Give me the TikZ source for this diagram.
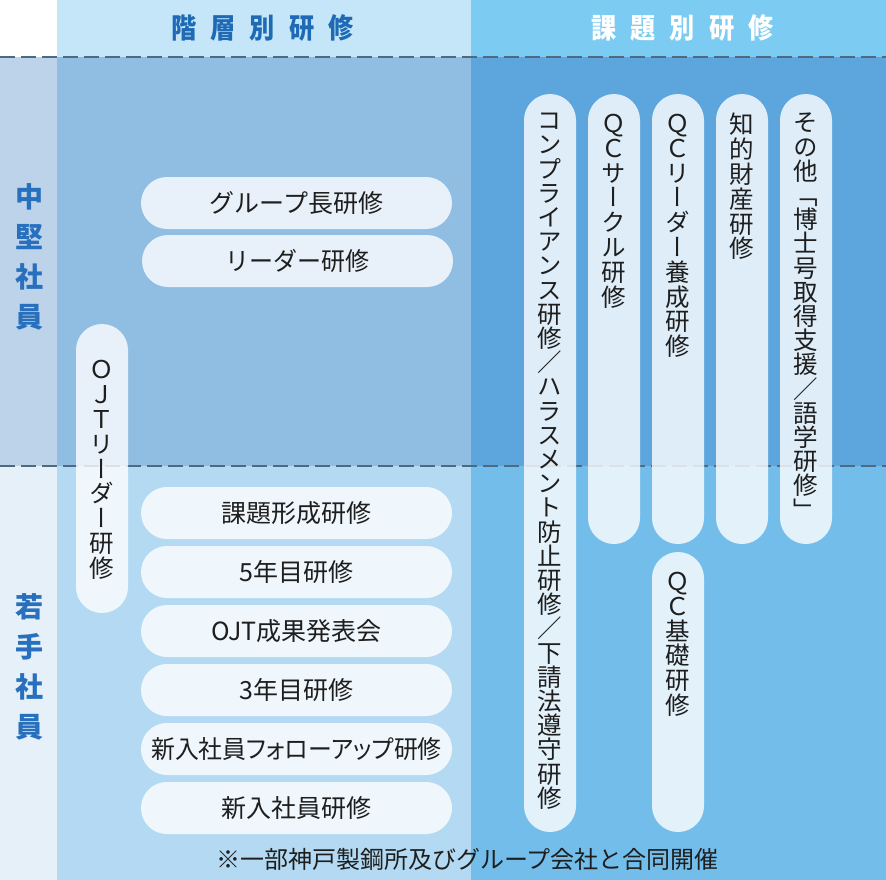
\documentclass[tikz,border=0pt]{standalone}
\usepackage{fontspec}
\setmainfont{Noto Sans CJK JP}
\newfontfamily\vfont[RawFeature=+vert]{Noto Sans CJK JP}
\definecolor{hdrL}{HTML}{C5E5F8}
\definecolor{hdrR}{HTML}{7CCBF2}
\definecolor{lblU}{HTML}{BDD3E9}
\definecolor{lblL}{HTML}{E6F0F9}
\definecolor{colTwoU}{HTML}{90BDE2}
\definecolor{colTwoL}{HTML}{B3DAF2}
\definecolor{colThreeU}{HTML}{5CA6DD}
\definecolor{colThreeL}{HTML}{72BDEA}
\definecolor{dashc}{HTML}{4F6A7E}
\definecolor{hdrblue}{HTML}{1E6AB4}
\definecolor{lblblue}{HTML}{2870BE}
\definecolor{txt}{HTML}{1E1E1E}
\tikzset{
  pill/.style={rectangle, rounded corners=26pt, fill=white, fill opacity=0.8,
    text opacity=1, inner sep=0pt, draw=none, text=txt,
    font=\fontsize{25}{30}\selectfont},
  hpill/.style={pill, minimum width=311pt, minimum height=52pt},
  vpill/.style={pill, minimum width=52pt},
  vtext/.style={inner sep=0pt, align=center, text=txt,
    font=\vfont\fontsize{24.5}{24.2}\selectfont},
  vtextwide/.style={vtext, font=\vfont\fontsize{24.5}{24.8}\selectfont},
  sepline/.style={dashc, line width=2.2pt, dash pattern=on 15pt off 6pt},
  hdrtext/.style={font=\fontsize{28}{28}\selectfont\bfseries},
  sidetext/.style={font=\fontsize{28}{40}\selectfont\bfseries, text=lblblue, align=center, inner sep=0pt}
}
\newcommand{\hsp}{\hspace{15.5pt}}
\begin{document}
\begin{tikzpicture}[x=1pt,y=-1pt]
\useasboundingbox (0,0) rectangle (886,880);
% backgrounds
\fill[hdrL] (57,0) rectangle (471,57);
\fill[hdrR] (471,0) rectangle (886,57);
\fill[lblU] (0,57) rectangle (57,466);
\fill[lblL] (0,466) rectangle (57,880);
\fill[colTwoU] (57,57) rectangle (471,466);
\fill[colTwoL] (57,466) rectangle (471,880);
\fill[colThreeU] (471,57) rectangle (886,466);
\fill[colThreeL] (471,466) rectangle (886,880);
% dashed separators
\coordinate (d1a) at (0,57); \coordinate (d1b) at (886,57);
\coordinate (d2a) at (0,466); \coordinate (d2b) at (886,466);
\draw[sepline] (d1a) -- (d1b);
\draw[sepline] (d2a) -- (d2b);
% headers
\node[hdrtext, text=hdrblue] (hL) at (262.5,28) {\scalebox{0.9}[1]{階\hsp 層\hsp 別\hsp 研\hsp 修}};
\node[hdrtext, text=white] (hR) at (682.5,28) {\scalebox{0.9}[1]{課\hsp 題\hsp 別\hsp 研\hsp 修}};
% side labels
\node[sidetext] (sU) at (30,257) {中\\堅\\社\\員};
\node[sidetext] (sL) at (30,667) {若\\手\\社\\員};
% horizontal pills
\node[hpill] (p1) at (296.5,203) {グループ長研修};
\node[hpill] (p2) at (297.5,261) {\scalebox{0.96}[1]{リーダー研修}};
\node[hpill] (p3) at (296.5,513) {課題形成研修};
\node[hpill] (p4) at (296.5,572) {5年目研修};
\node[hpill] (p5) at (296.5,631) {OJT成果発表会};
\node[hpill] (p6) at (296.5,690) {3年目研修};
\node[hpill] (p7) at (296.5,749) {\scalebox{0.955}[1]{\addfontfeature{RawFeature=+palt}新入社員フォローアップ研修}};
\node[hpill] (p8) at (296.5,808) {新入社員研修};
% vertical pills
\node[vpill, minimum height=289pt] (ojt) at (102,468.5) {};
\node[vpill, minimum height=738pt] (c1) at (550,463) {};
\node[vpill, minimum height=450pt] (c2) at (614,319) {};
\node[vpill, minimum height=450pt] (c3) at (678,319) {};
\node[vpill, minimum height=450pt] (c4) at (742,319) {};
\node[vpill, minimum height=450pt] (c5) at (806,319) {};
\node[vpill, minimum height=280pt] (c6) at (678,692) {};
% vertical texts
\node[vtextwide] (tojt) at (102,470) {Ｏ\\Ｊ\\Ｔ\\リ\\ー\\ダ\\ー\\研\\修};
\node[vtext, anchor=north] (t1) at (550,113) {コ\\ン\\プ\\ラ\\イ\\ア\\ン\\ス\\研\\修\\／\\ハ\\ラ\\ス\\メ\\ン\\ト\\防\\止\\研\\修\\／\\下\\請\\法\\遵\\守\\研\\修};
\node[vtextwide, anchor=north] (t2) at (614,114) {Ｑ\\Ｃ\\サ\\ー\\ク\\ル\\研\\修};
\node[vtextwide, anchor=north] (t3) at (678,114) {Ｑ\\Ｃ\\リ\\ー\\ダ\\ー\\養\\成\\研\\修};
\node[vtextwide, anchor=north] (t4) at (742,113) {知\\的\\財\\産\\研\\修};
\node[vtext, anchor=north] (t5) at (806,113) {そ\\の\\他\\「\\博\\士\\号\\取\\得\\支\\援\\／\\語\\学\\研\\修\\」};
\node[vtextwide, anchor=north] (t6) at (678,572) {Ｑ\\Ｃ\\基\\礎\\研\\修};
% footer
\node[font=\fontsize{24}{24}\selectfont, text=txt] (ft) at (467.5,859) {※一部神戸製鋼所及びグループ会社と合同開催};
\end{tikzpicture}
\end{document}
